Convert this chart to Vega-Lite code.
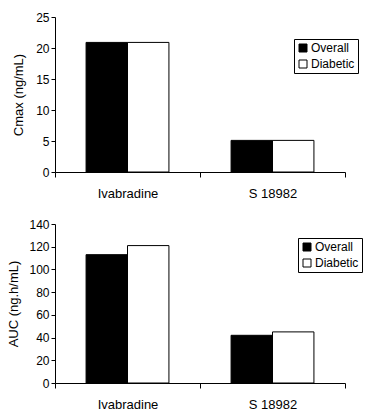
{
  "$schema": "https://vega.github.io/schema/vega-lite/v6.json",
  "padding": {"left": 7, "top": 11, "right": 10, "bottom": 5},
  "background": "white",
  "config": {
    "font": "Liberation Sans",
    "view": {"stroke": null},
    "axis": {
      "domainColor": "black", "tickColor": "black", "labelColor": "black", "titleColor": "black",
      "labelFontSize": 12, "titleFontSize": 13, "titleFontWeight": "normal", "grid": false,
      "labelFont": "Liberation Sans", "titleFont": "Liberation Sans", "tickSize": 4
    },
    "legend": {
      "labelFont": "Liberation Sans", "labelFontSize": 12, "labelColor": "black",
      "strokeColor": "black", "padding": 3, "symbolType": "square", "symbolSize": 64,
      "symbolStrokeColor": "black", "symbolStrokeWidth": 1, "rowPadding": 4, "labelOffset": 2
    }
  },
  "spacing": 18,
  "resolve": {"scale": {"color": "independent"}},
  "vconcat": [
    {
      "width": 290, "height": 155,
      "data": {"values": [
        {"drug": "Ivabradine", "group": "Overall", "value": 20.9},
        {"drug": "Ivabradine", "group": "Diabetic", "value": 20.9},
        {"drug": "S 18982", "group": "Overall", "value": 5.1},
        {"drug": "S 18982", "group": "Diabetic", "value": 5.1}
      ]},
      "mark": {"type": "bar", "stroke": "black", "strokeWidth": 1},
      "encoding": {
        "x": {"field": "drug", "type": "nominal", "sort": ["Ivabradine", "S 18982"],
              "scale": {"paddingInner": 0, "paddingOuter": 0},
              "axis": {"title": null, "labelAngle": 0, "tickBand": "extent", "labelPadding": 10, "tickSize": 5, "labelFontSize": 13}},
        "xOffset": {"field": "group", "type": "nominal", "sort": ["Overall", "Diabetic"],
              "scale": {"paddingInner": 0, "paddingOuter": 0.75}},
        "y": {"field": "value", "type": "quantitative", "scale": {"domain": [0, 25]},
              "axis": {"title": "Cmax (ng/mL)", "values": [0, 5, 10, 15, 20, 25], "titlePadding": 10}},
        "color": {"field": "group", "type": "nominal",
              "scale": {"domain": ["Overall", "Diabetic"], "range": ["black", "white"]},
              "legend": {"title": null, "orient": "none", "legendX": 239, "legendY": 22}}
      }
    },
    {
      "width": 290, "height": 159,
      "data": {"values": [
        {"drug": "Ivabradine", "group": "Overall", "value": 113},
        {"drug": "Ivabradine", "group": "Diabetic", "value": 121},
        {"drug": "S 18982", "group": "Overall", "value": 42},
        {"drug": "S 18982", "group": "Diabetic", "value": 45}
      ]},
      "mark": {"type": "bar", "stroke": "black", "strokeWidth": 1},
      "encoding": {
        "x": {"field": "drug", "type": "nominal", "sort": ["Ivabradine", "S 18982"],
              "scale": {"paddingInner": 0, "paddingOuter": 0},
              "axis": {"title": null, "labelAngle": 0, "tickBand": "extent", "labelPadding": 10, "tickSize": 5, "labelFontSize": 13}},
        "xOffset": {"field": "group", "type": "nominal", "sort": ["Overall", "Diabetic"],
              "scale": {"paddingInner": 0, "paddingOuter": 0.75}},
        "y": {"field": "value", "type": "quantitative", "scale": {"domain": [0, 140]},
              "axis": {"title": "AUC (ng.h/mL)", "values": [0, 20, 40, 60, 80, 100, 120, 140], "titlePadding": 8}},
        "color": {"field": "group", "type": "nominal",
              "scale": {"domain": ["Overall", "Diabetic"], "range": ["black", "white"]},
              "legend": {"title": null, "orient": "none", "legendX": 243, "legendY": 14}}
      }
    }
  ]
}
